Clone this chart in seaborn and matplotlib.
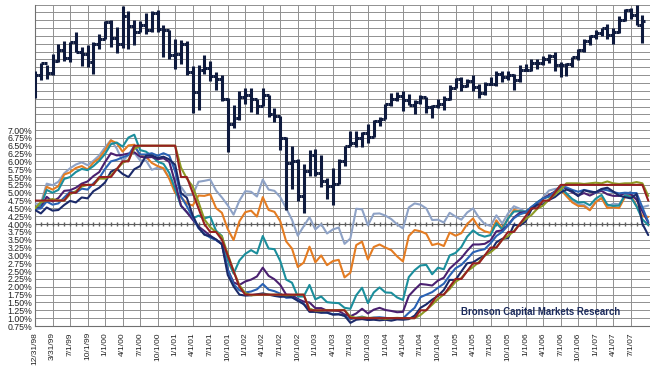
import numpy as np
import pandas as pd
import seaborn as sns
import matplotlib
matplotlib.use('Agg')
import matplotlib.pyplot as plt

# monthly points, index 0 = Dec 1998
tick_labels = ['12/31/98', '3/31/99', '7/1/99', '10/1/99', '1/1/00', '4/1/00', '7/1/00', '10/1/00',
               '1/1/01', '4/1/01', '7/1/01', '10/1/01', '1/1/02', '4/1/02', '7/1/02', '10/1/02',
               '1/1/03', '4/1/03', '7/1/03', '10/1/03', '1/1/04', '4/1/04', '7/1/04', '10/1/04',
               '1/1/05', '4/1/05', '7/1/05', '10/1/05', '1/1/06', '4/1/06', '7/1/06', '10/1/06',
               '1/1/07', '4/1/07', '7/1/07']

# rates, Dec 1998 .. Sep 2007
fed_target = [4.75,
    4.75, 4.75, 4.75, 4.75, 4.75, 5.00, 5.00, 5.25, 5.25, 5.25, 5.50, 5.50,
    5.50, 5.75, 6.00, 6.00, 6.50, 6.50, 6.50, 6.50, 6.50, 6.50, 6.50, 6.50,
    5.50, 5.50, 5.00, 4.50, 4.00, 3.75, 3.75, 3.50, 3.00, 2.50, 2.00, 1.75,
    1.75, 1.75, 1.75, 1.75, 1.75, 1.75, 1.75, 1.75, 1.75, 1.75, 1.25, 1.25,
    1.25, 1.25, 1.25, 1.25, 1.25, 1.00, 1.00, 1.00, 1.00, 1.00, 1.00, 1.00,
    1.00, 1.00, 1.00, 1.00, 1.00, 1.25, 1.25, 1.50, 1.75, 1.75, 2.00, 2.25,
    2.25, 2.50, 2.75, 2.75, 3.00, 3.25, 3.25, 3.50, 3.75, 3.75, 4.00, 4.25,
    4.50, 4.50, 4.75, 4.75, 5.00, 5.25, 5.25, 5.25, 5.25, 5.25, 5.25, 5.25,
    5.25, 5.25, 5.25, 5.25, 5.25, 5.25, 5.25, 5.25, 4.75]
fed_eff = [4.50,
    4.70, 4.75, 4.80, 4.75, 4.75, 4.95, 5.05, 5.20, 5.25, 5.25, 5.45, 5.45,
    5.55, 5.75, 5.95, 6.05, 6.40, 6.50, 6.50, 6.50, 6.50, 6.50, 6.50, 6.50,
    5.80, 5.45, 5.20, 4.70, 4.15, 3.90, 3.75, 3.60, 3.05, 2.50, 2.05, 1.80,
    1.73, 1.74, 1.75, 1.75, 1.75, 1.75, 1.73, 1.74, 1.75, 1.75, 1.30, 1.24,
    1.24, 1.26, 1.25, 1.26, 1.26, 1.05, 1.01, 1.03, 1.01, 1.01, 1.00, 0.98,
    1.00, 1.01, 1.00, 1.00, 1.00, 1.10, 1.26, 1.43, 1.61, 1.76, 1.93, 2.16,
    2.28, 2.50, 2.63, 2.79, 3.00, 3.10, 3.26, 3.50, 3.62, 3.78, 4.00, 4.16,
    4.29, 4.49, 4.59, 4.79, 4.94, 5.10, 5.30, 5.30, 5.30, 5.28, 5.30, 5.32,
    5.30, 5.36, 5.30, 5.28, 5.30, 5.30, 5.34, 5.30, 4.90]
bill_3m = [4.45,
    4.34, 4.53, 4.43, 4.45, 4.61, 4.74, 4.69, 4.85, 4.82, 5.05, 5.16, 5.33,
    5.67, 5.76, 5.60, 5.50, 5.75, 5.85, 6.18, 6.19, 6.11, 6.15, 6.06, 5.89,
    4.99, 4.84, 4.28, 3.89, 3.66, 3.61, 3.51, 3.36, 2.38, 2.01, 1.75, 1.72,
    1.73, 1.76, 1.79, 1.75, 1.71, 1.68, 1.69, 1.67, 1.55, 1.45, 1.20, 1.20,
    1.17, 1.18, 1.11, 1.12, 1.08, 0.85, 0.95, 0.97, 0.94, 0.95, 0.93, 0.95,
    0.92, 0.96, 0.95, 0.97, 1.08, 1.33, 1.44, 1.59, 1.71, 1.90, 2.22, 2.22,
    2.49, 2.75, 2.78, 2.90, 3.00, 3.12, 3.42, 3.53, 3.55, 3.98, 3.95, 4.08,
    4.47, 4.62, 4.63, 4.77, 4.86, 5.01, 5.10, 5.05, 4.89, 5.08, 5.03, 5.02,
    5.12, 5.16, 5.04, 4.91, 4.86, 4.82, 4.96, 4.01, 3.65]
bill_6m = [4.48,
    4.50, 4.72, 4.62, 4.66, 4.85, 5.03, 5.00, 5.13, 5.10, 5.30, 5.47, 5.76,
    6.00, 6.05, 6.13, 6.20, 6.49, 6.22, 6.22, 6.26, 6.18, 6.26, 6.18, 5.68,
    4.88, 4.57, 4.22, 3.87, 3.69, 3.57, 3.49, 3.36, 2.55, 2.08, 1.89, 1.82,
    1.85, 1.92, 2.09, 1.91, 1.86, 1.78, 1.65, 1.66, 1.58, 1.45, 1.30, 1.22,
    1.20, 1.17, 1.13, 1.13, 1.07, 0.97, 1.01, 1.05, 0.99, 1.02, 1.03, 1.01,
    0.98, 0.99, 0.99, 1.17, 1.33, 1.67, 1.75, 1.83, 1.97, 2.10, 2.36, 2.59,
    2.70, 2.89, 3.10, 3.16, 3.20, 3.39, 3.62, 3.75, 3.96, 4.19, 4.31, 4.37,
    4.55, 4.68, 4.82, 4.89, 5.03, 5.22, 5.17, 5.09, 5.03, 5.09, 5.05, 5.00,
    5.11, 5.08, 5.02, 4.98, 5.00, 4.99, 4.99, 4.53, 4.07]
note_1y = [4.52,
    4.51, 4.87, 4.72, 4.83, 5.06, 5.08, 5.16, 5.29, 5.36, 5.53, 5.66, 5.98,
    6.26, 6.19, 6.21, 6.25, 6.29, 6.15, 6.12, 6.14, 6.07, 6.10, 5.98, 5.32,
    4.59, 4.38, 4.14, 3.92, 3.78, 3.63, 3.50, 3.36, 2.55, 2.14, 2.06, 2.17,
    2.23, 2.33, 2.61, 2.35, 2.24, 2.06, 1.75, 1.74, 1.61, 1.53, 1.50, 1.32,
    1.32, 1.24, 1.24, 1.23, 1.12, 1.06, 1.15, 1.30, 1.15, 1.27, 1.33, 1.26,
    1.23, 1.19, 1.20, 1.71, 1.91, 2.09, 2.07, 2.04, 2.20, 2.29, 2.58, 2.75,
    2.92, 3.15, 3.35, 3.35, 3.37, 3.48, 3.77, 3.80, 3.97, 4.21, 4.36, 4.38,
    4.49, 4.68, 4.81, 4.93, 5.03, 5.21, 5.13, 5.01, 4.91, 4.99, 4.91, 5.00,
    5.06, 4.95, 4.90, 4.90, 4.99, 4.96, 4.78, 4.41, 4.05]
note_2y = [4.53,
    4.60, 5.09, 5.00, 5.09, 5.44, 5.50, 5.66, 5.76, 5.72, 5.85, 6.02, 6.24,
    6.55, 6.60, 6.47, 6.76, 6.85, 6.36, 6.31, 6.17, 5.99, 5.92, 5.63, 5.11,
    4.58, 4.38, 4.18, 4.27, 4.18, 4.24, 3.79, 3.62, 2.85, 2.42, 2.84, 3.05,
    3.17, 3.06, 3.62, 3.22, 3.20, 2.82, 2.23, 2.13, 1.69, 1.69, 2.06, 1.60,
    1.69, 1.51, 1.49, 1.48, 1.33, 1.30, 1.73, 1.97, 1.48, 1.82, 1.98, 1.82,
    1.81, 1.66, 1.58, 2.31, 2.53, 2.68, 2.70, 2.40, 2.61, 2.56, 3.00, 3.08,
    3.27, 3.60, 3.80, 3.66, 3.60, 3.65, 4.03, 3.83, 4.18, 4.40, 4.41, 4.40,
    4.53, 4.70, 4.82, 4.87, 5.02, 5.16, 4.97, 4.80, 4.69, 4.70, 4.60, 4.81,
    4.93, 4.62, 4.58, 4.59, 4.92, 4.87, 4.56, 4.15, 3.97]
note_5y = [4.54,
    4.57, 5.19, 5.10, 5.21, 5.58, 5.65, 5.79, 5.85, 5.74, 5.96, 6.10, 6.36,
    6.67, 6.58, 6.31, 6.51, 6.53, 6.18, 6.15, 5.95, 5.85, 5.78, 5.44, 4.99,
    4.85, 4.66, 4.59, 4.91, 4.90, 4.95, 4.51, 4.36, 3.84, 3.49, 4.09, 4.38,
    4.43, 4.24, 4.86, 4.45, 4.39, 4.09, 3.45, 3.22, 2.63, 2.77, 3.28, 2.78,
    3.00, 2.69, 2.82, 2.86, 2.30, 2.45, 3.33, 3.44, 2.87, 3.27, 3.35, 3.25,
    3.17, 2.97, 2.81, 3.62, 3.81, 3.77, 3.69, 3.33, 3.38, 3.30, 3.73, 3.63,
    3.71, 4.00, 4.18, 3.88, 3.77, 3.72, 4.12, 3.86, 4.18, 4.45, 4.42, 4.35,
    4.47, 4.62, 4.82, 4.92, 5.03, 5.10, 4.89, 4.69, 4.58, 4.57, 4.44, 4.70,
    4.83, 4.51, 4.54, 4.51, 4.86, 4.92, 4.58, 4.25, 4.23]
note_10y = [4.65,
    4.65, 5.29, 5.24, 5.35, 5.62, 5.78, 5.90, 5.97, 5.88, 6.02, 6.19, 6.45,
    6.68, 6.41, 6.00, 6.21, 6.27, 6.03, 6.03, 5.73, 5.80, 5.75, 5.48, 5.12,
    5.19, 4.92, 4.93, 5.35, 5.38, 5.42, 5.07, 4.85, 4.60, 4.30, 4.75, 5.05,
    5.03, 4.88, 5.42, 5.10, 5.06, 4.86, 4.51, 4.14, 3.63, 3.93, 4.22, 3.83,
    4.00, 3.70, 3.83, 3.89, 3.37, 3.54, 4.49, 4.47, 3.96, 4.33, 4.34, 4.27,
    4.16, 3.99, 3.86, 4.53, 4.66, 4.62, 4.50, 4.13, 4.14, 4.05, 4.36, 4.24,
    4.14, 4.37, 4.50, 4.21, 4.00, 3.94, 4.28, 4.02, 4.34, 4.57, 4.49, 4.39,
    4.53, 4.55, 4.86, 5.07, 5.12, 5.15, 4.99, 4.74, 4.64, 4.61, 4.46, 4.71,
    4.83, 4.56, 4.65, 4.63, 4.90, 5.03, 4.78, 4.54, 4.59]

# S&P 500 monthly bars, Dec 1998 .. Aug 2007
spx_open = [1163.6,
    1229.2, 1279.6, 1238.3, 1286.4, 1335.2, 1301.8, 1372.7, 1328.7, 1320.4, 1282.7, 1362.9, 1388.9,
    1469.3, 1394.5, 1366.4, 1498.6, 1452.4, 1420.6, 1454.6, 1430.8, 1517.7, 1436.5, 1429.4, 1315.0,
    1320.3, 1366.0, 1239.9, 1160.3, 1249.5, 1255.8, 1224.4, 1211.2, 1133.6, 1040.9, 1059.8, 1139.5,
    1148.1, 1130.2, 1106.7, 1147.4, 1076.9, 1067.1, 989.8, 911.6, 916.1, 815.3, 885.8, 936.3,
    879.8, 855.7, 841.2, 848.2, 916.9, 963.6, 974.5, 990.3, 1008.0, 996.0, 1050.7, 1058.2,
    1111.9, 1131.1, 1144.9, 1126.2, 1107.3, 1120.7, 1140.8, 1101.7, 1104.2, 1114.6, 1130.2, 1173.8,
    1211.9, 1181.3, 1203.6, 1180.6, 1156.9, 1191.5, 1191.3, 1234.2, 1220.3, 1228.8, 1207.0, 1249.5,
    1248.3, 1280.1, 1280.7, 1294.8, 1310.6, 1270.1, 1270.2, 1276.7, 1303.8, 1335.9, 1377.9, 1400.6,
    1418.3, 1438.2, 1406.8, 1420.9, 1482.4, 1530.6, 1503.4, 1455.3]
spx_high = [1244.9,
    1280.4, 1271.0, 1316.6, 1362.8, 1376.0, 1372.9, 1420.3, 1352.0, 1361.0, 1373.0, 1410.5, 1473.0,
    1478.0, 1444.5, 1552.9, 1527.2, 1481.5, 1474.6, 1517.3, 1525.0, 1530.0, 1454.0, 1431.8, 1389.0,
    1383.0, 1376.4, 1267.4, 1269.0, 1315.9, 1286.6, 1239.8, 1226.0, 1135.0, 1110.6, 1163.0, 1173.0,
    1176.6, 1130.2, 1173.0, 1147.8, 1099.3, 1067.7, 994.5, 965.0, 924.0, 907.4, 951.6, 954.3,
    935.0, 864.6, 895.9, 924.2, 965.4, 1015.3, 1015.4, 1011.0, 1040.0, 1053.8, 1063.4, 1112.6,
    1155.4, 1159.0, 1163.2, 1150.6, 1127.7, 1146.2, 1140.8, 1109.7, 1131.5, 1142.0, 1188.5, 1217.3,
    1217.8, 1212.4, 1229.1, 1191.9, 1199.6, 1219.6, 1245.2, 1245.9, 1243.1, 1233.3, 1270.6, 1275.8,
    1294.9, 1297.6, 1310.9, 1318.2, 1326.7, 1284.1, 1280.4, 1306.7, 1340.3, 1389.5, 1407.9, 1431.8,
    1441.6, 1461.6, 1438.9, 1498.0, 1535.6, 1540.6, 1555.9, 1503.9]
spx_low = [1136.9,
    1205.5, 1211.7, 1228.5, 1282.5, 1287.0, 1281.4, 1328.5, 1268.0, 1263.0, 1233.7, 1343.0, 1387.0,
    1350.0, 1325.0, 1346.6, 1339.4, 1361.0, 1420.0, 1413.0, 1421.0, 1419.4, 1305.8, 1294.9, 1254.0,
    1274.6, 1228.3, 1081.0, 1091.9, 1232.0, 1203.0, 1165.5, 1124.9, 944.8, 1026.8, 1054.3, 1114.5,
    1081.7, 1074.4, 1106.7, 1063.5, 1048.0, 952.9, 775.7, 833.4, 800.2, 768.6, 872.1, 870.8,
    840.3, 806.3, 788.9, 847.8, 902.8, 963.6, 962.1, 960.8, 974.2, 994.9, 1031.2, 1055.8,
    1105.0, 1124.4, 1087.2, 1107.2, 1076.3, 1113.3, 1078.8, 1060.7, 1099.0, 1090.2, 1127.6, 1173.8,
    1163.8, 1180.9, 1163.7, 1136.2, 1146.2, 1188.3, 1183.6, 1201.1, 1205.4, 1168.2, 1201.1, 1246.6,
    1245.7, 1253.6, 1268.4, 1280.7, 1245.3, 1219.3, 1224.5, 1261.3, 1290.9, 1327.1, 1360.9, 1385.9,
    1404.0, 1389.4, 1364.0, 1416.4, 1476.7, 1484.2, 1454.3, 1370.6]
spx_close = [1229.2,
    1279.6, 1238.3, 1286.4, 1335.2, 1301.8, 1372.7, 1328.7, 1320.4, 1282.7, 1362.9, 1388.9, 1469.3,
    1394.5, 1366.4, 1498.6, 1452.4, 1420.6, 1454.6, 1430.8, 1517.7, 1436.5, 1429.4, 1315.0, 1320.3,
    1366.0, 1239.9, 1160.3, 1249.5, 1255.8, 1224.4, 1211.2, 1133.6, 1040.9, 1059.8, 1139.5, 1148.1,
    1130.2, 1106.7, 1147.4, 1076.9, 1067.1, 989.8, 911.6, 916.1, 815.3, 885.8, 936.3, 879.8,
    855.7, 841.2, 848.2, 916.9, 963.6, 974.5, 990.3, 1008.0, 996.0, 1050.7, 1058.2, 1111.9,
    1131.1, 1144.9, 1126.2, 1107.3, 1120.7, 1140.8, 1101.7, 1104.2, 1114.6, 1130.2, 1173.8, 1211.9,
    1181.3, 1203.6, 1180.6, 1156.9, 1191.5, 1191.3, 1234.2, 1220.3, 1228.8, 1207.0, 1249.5, 1248.3,
    1280.1, 1280.7, 1294.8, 1310.6, 1270.1, 1270.2, 1276.7, 1303.8, 1335.9, 1377.9, 1400.6, 1418.3,
    1438.2, 1406.8, 1420.9, 1482.4, 1530.6, 1503.4, 1455.3, 1474.0]

series_names = ['10 yr', '5 yr', '2 yr', '1 yr', '6 mo', '3 mo', 'Fed funds eff', 'Fed funds target']
series_vals = [note_10y, note_5y, note_2y, note_1y, bill_6m, bill_3m, fed_eff, fed_target]
series_colors = ['#8ea2c6', '#e47c22', '#1b8e9c', '#4a2070', '#2a62b4', '#1b2a6a', '#8d9b25', '#962020']

rows = []
for name, vals in zip(series_names, series_vals):
    for i, v in enumerate(vals):
        rows.append({'month': i, 'rate': v, 'series': name})
df = pd.DataFrame(rows)

sns.set_theme(style='white')
plt.rcParams['font.family'] = ['Liberation Sans', 'DejaVu Sans']

fig = plt.figure(figsize=(6.5, 3.66), dpi=100)
ax = fig.add_axes([35 / 650, 40 / 366, 615 / 650, 321.4 / 366])

sns.lineplot(data=df, x='month', y='rate', hue='series', hue_order=series_names,
             palette=dict(zip(series_names, series_colors)), linewidth=1.5,
             legend=False, ax=ax, zorder=3)

ax.set_xlim(0, 105.3)
ax.set_ylim(0.75, 11.0)
yt = np.arange(0.75, 11.01, 0.25)
ax.set_yticks(yt)
ax.set_yticklabels(['{:.2f}%'.format(v) if v <= 7.001 else '' for v in yt], fontsize=6.3)
xt = np.arange(0, 105, 3)
ax.set_xticks(xt)
ax.set_xticklabels(tick_labels, rotation=90, fontsize=6.0)
ax.tick_params(axis='y', length=0, pad=2, colors='#222222')
ax.tick_params(axis='x', length=3, width=0.8, pad=1.5, colors='#222222', direction='out')
ax.set_xlabel('')
ax.set_ylabel('')
ax.grid(True, color='#909090', linewidth=0.7)
ax.set_axisbelow(True)
for s in ['top', 'right']:
    ax.spines[s].set_visible(False)
for s in ['left', 'bottom']:
    ax.spines[s].set_color('#707070')
    ax.spines[s].set_linewidth(0.8)

# axis line crossing at 4.00% with monthly ticks
months = np.arange(0, 106)
ax.axhline(4.0, color='#606060', linewidth=0.8, zorder=2)
ax.plot(months, np.full(len(months), 4.0), linestyle='none', marker='|',
        markersize=3, color='#606060', zorder=2)

# stock index bars on a hidden log axis
ax2 = ax.twinx()
ax2.set_yscale('log')
ax2.set_ylim(523.6, 1559.6)
ax2.set_xlim(0, 105.3)
ax2.axis('off')
bar_x = np.arange(len(spx_close))
bar_col = '#0e1a3e'
ax2.vlines(bar_x, spx_low, spx_high, color=bar_col, linewidth=2.2, zorder=4)
ax2.hlines(spx_open, bar_x - 0.5, bar_x, color=bar_col, linewidth=2.2, zorder=4)
ax2.hlines(spx_close, bar_x, bar_x + 0.5, color=bar_col, linewidth=2.2, zorder=4)

ax.text(86.5, 1.21, 'Bronson Capital Markets Research', fontsize=6.9, fontweight='bold',
        color='#1c2b5c', ha='center', va='center', zorder=6)

fig.savefig('out.png', dpi=100)
